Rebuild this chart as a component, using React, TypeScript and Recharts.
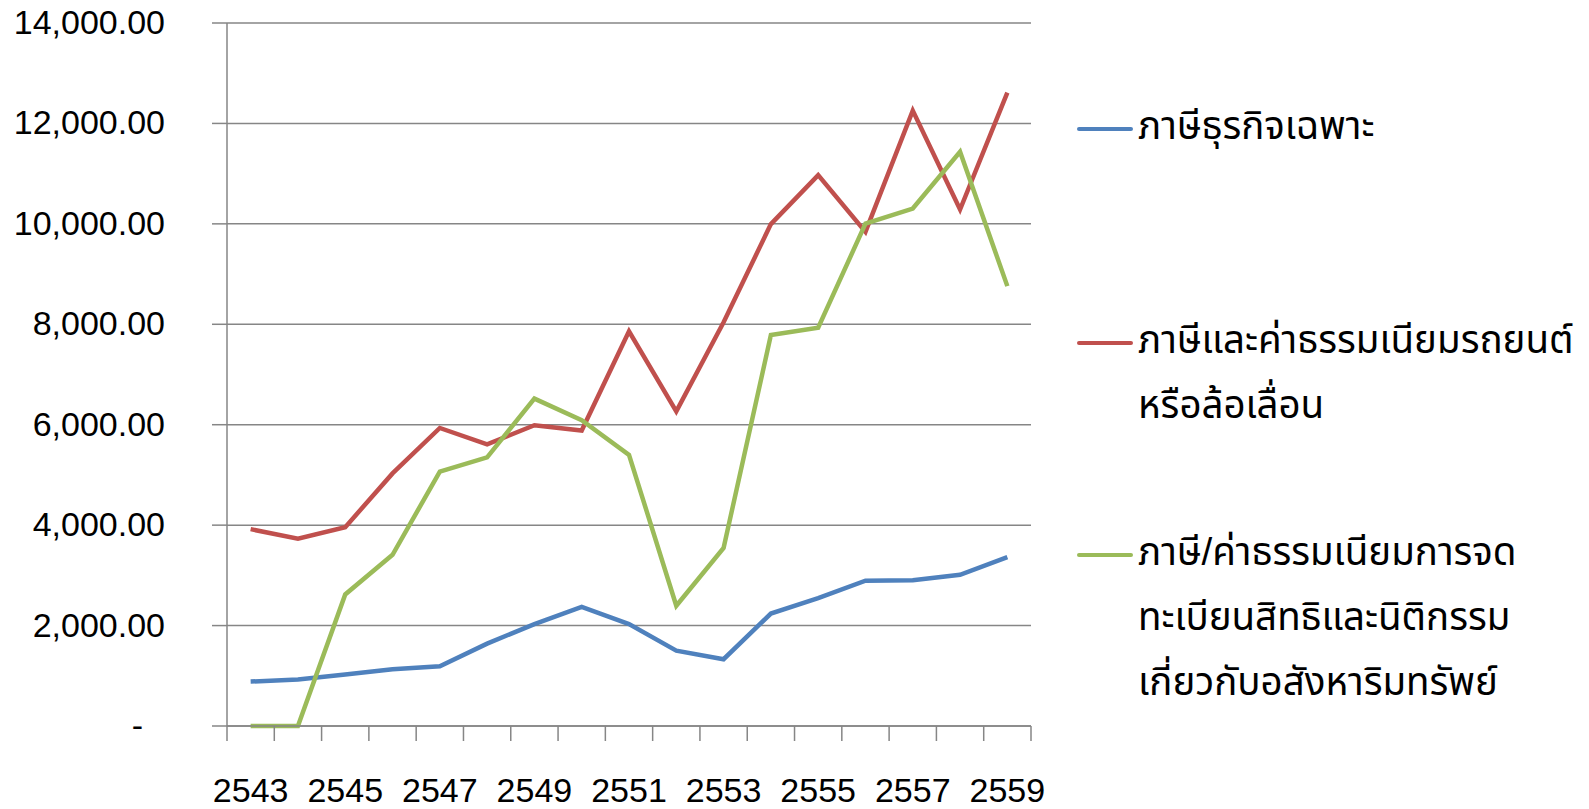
import {
  LineChart,
  Line,
  XAxis,
  YAxis,
  CartesianGrid,
  Legend,
} from "recharts";

const years = [
  "2543", "2544", "2545", "2546", "2547", "2548", "2549", "2550", "2551",
  "2552", "2553", "2554", "2555", "2556", "2557", "2558", "2559",
];

const businessTax = [
  885, 925, 1025, 1130, 1190, 1640, 2030, 2370, 2030, 1500, 1330, 2240, 2545,
  2895, 2905, 3010, 3365,
];

const vehicleTax = [
  3920, 3730, 3960, 5030, 5935, 5610, 5990, 5885, 7860, 6265, 8040, 9995,
  10970, 9840, 12255, 10285, 12615,
];

const propertyFee = [
  0, 0, 2620, 3410, 5065, 5350, 6520, 6090, 5400, 2395, 3545, 7785, 7930,
  10005, 10305, 11435, 8760,
];

const yTicks = [0, 2000, 4000, 6000, 8000, 10000, 12000, 14000];

const seriesNames = [
  ["ภาษีธุรกิจเฉพาะ"],
  ["ภาษีและค่าธรรมเนียมรถยนต์", "หรือล้อเลื่อน"],
  ["ภาษี/ค่าธรรมเนียมการจด", "ทะเบียนสิทธิและนิติกรรม", "เกี่ยวกับอสังหาริมทรัพย์"],
];
const colors = ["#4F81BD", "#C0504D", "#9BBB59"];

const data = years.map((y, i) => ({
  year: y,
  s1: businessTax[i],
  s2: vehicleTax[i],
  s3: propertyFee[i],
}));

const FONT = "'Liberation Sans', Arial, 'Noto Sans Thai', 'Noto Sans', sans-serif";
const GRAY = "#868686";

// plot area 227..1031 wide, 17 categories -> half band
const HALF_BAND = (1589 - 558 - 227) / years.length / 2;

const YTick = (props: any) => {
  const { x, y, payload } = props;
  const v = payload.value as number;
  const label =
    v === 0
      ? "-"
      : v.toLocaleString("en-US", { minimumFractionDigits: 2, maximumFractionDigits: 2 });
  return (
    <text
      x={v === 0 ? x - 67 : x - 45}
      y={y + 11}
      textAnchor="end"
      fontSize={34}
      fontFamily={FONT}
      fill="#000"
    >
      {label}
    </text>
  );
};

// tick marks sit on category boundaries, labels on every other category
const XTick = (props: any) => {
  const { x, y, payload, index } = props;
  const last = index === years.length - 1;
  return (
    <g>
      <line x1={x - HALF_BAND} x2={x - HALF_BAND} y1={y} y2={y + 15} stroke={GRAY} strokeWidth={1.5} />
      {last && (
        <line x1={x + HALF_BAND} x2={x + HALF_BAND} y1={y} y2={y + 15} stroke={GRAY} strokeWidth={1.5} />
      )}
      {index % 2 === 0 && (
        <text x={x} y={y + 76} textAnchor="middle" fontSize={34} fontFamily={FONT} fill="#000">
          {payload.value}
        </text>
      )}
    </g>
  );
};

const legendTops = [129, 343, 555];

const ChartLegend = () => (
  <div style={{ position: "relative", width: 510, height: 700 }}>
    {seriesNames.map((lines, i) => (
      <div key={i} style={{ position: "absolute", left: 0, top: legendTops[i] - 32 }}>
        <div
          style={{
            position: "absolute",
            left: 0,
            top: 30,
            width: 56,
            height: 4,
            borderRadius: 2,
            background: colors[i],
          }}
        />
        {lines.map((t, j) => (
          <div
            key={j}
            style={{
              position: "absolute",
              left: 61,
              top: j * 65 - 3,
              whiteSpace: "nowrap",
              fontSize: 38.5,
              lineHeight: "64px",
              fontFamily: FONT,
              color: "#000",
            }}
          >
            {t}
          </div>
        ))}
      </div>
    ))}
  </div>
);

export default function App() {
  return (
    <div style={{ position: "absolute", left: 0, top: 0, background: "#fff" }}>
      <LineChart
        width={1589}
        height={809}
        data={data}
        margin={{ top: 23, right: 558, bottom: 0, left: 0 }}
      >
        <CartesianGrid vertical={false} stroke={GRAY} strokeWidth={1.5} />
        <XAxis
          dataKey="year"
          interval={0}
          padding={{ left: HALF_BAND, right: HALF_BAND }}
          tickLine={false}
          tickSize={0}
          tickMargin={0}
          stroke={GRAY}
          strokeWidth={1.5}
          height={83}
          tick={<XTick />}
        />
        <YAxis
          width={227}
          domain={[0, 14000]}
          ticks={yTicks}
          tickSize={15}
          stroke={GRAY}
          strokeWidth={1.5}
          tick={<YTick />}
        />
        <Legend
          layout="vertical"
          align="center"
          verticalAlign="middle"
          wrapperStyle={{ left: 1077, top: 0, width: 510 }}
          content={<ChartLegend />}
        />
        <Line dataKey="s1" name={seriesNames[0].join(" ")} stroke={colors[0]} strokeWidth={4.5} dot={false} isAnimationActive={false} />
        <Line dataKey="s2" name={seriesNames[1].join(" ")} stroke={colors[1]} strokeWidth={4.5} dot={false} isAnimationActive={false} />
        <Line dataKey="s3" name={seriesNames[2].join(" ")} stroke={colors[2]} strokeWidth={4.5} dot={false} isAnimationActive={false} />
      </LineChart>
    </div>
  );
}
